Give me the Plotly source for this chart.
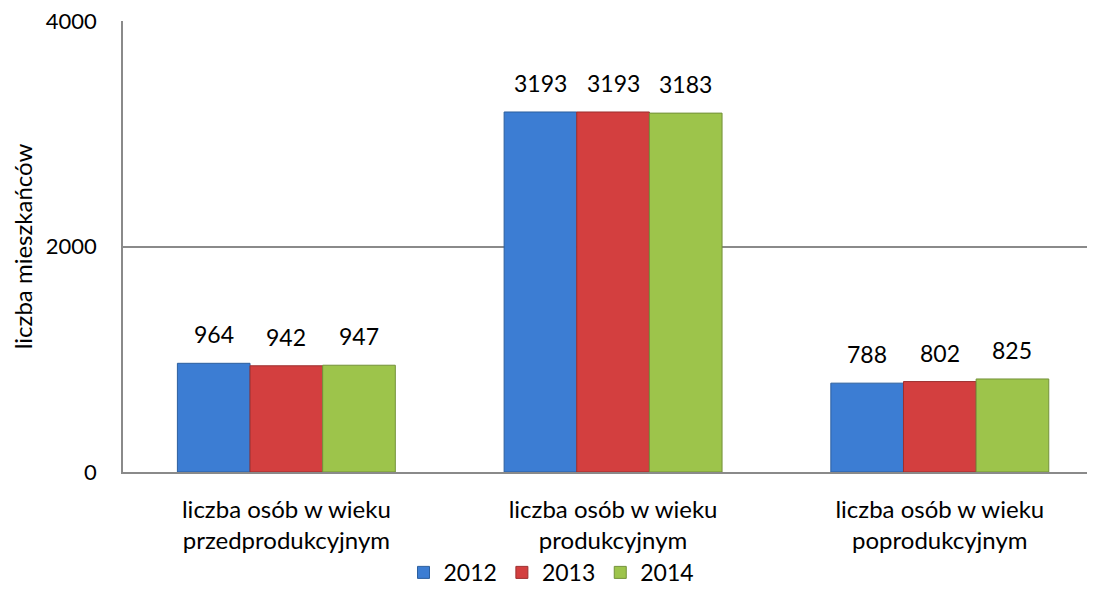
import plotly.graph_objects as go

categories = ["liczba osób w wieku<br>przedprodukcyjnym",
              "liczba osób w wieku<br>produkcyjnym",
              "liczba osób w wieku<br>poprodukcyjnym"]
years = ["2012", "2013", "2014"]
values_2012 = [964, 3193, 788]
values_2013 = [942, 3193, 802]
values_2014 = [947, 3183, 825]
series_values = [values_2012, values_2013, values_2014]
colors = ["#3c7dd3", "#d33f3f", "#9dc44b"]
line_colors = ["#2c5f9e", "#9c2f2f", "#73913a"]

FONT = "Lato"
FS = 23
BARGAP = 0.333
X_RANGE = [-0.5, 2.475]   # plot area is cropped slightly at the right edge

# page body has an 8px default margin, so the figure is 8px smaller
W, H = 1087, 600
ML, MR, MT, MB = 115, 0, 13, 136

fig = go.Figure()
for name, vals, col, lc in zip(years, series_values, colors, line_colors):
    fig.add_trace(go.Bar(
        x=categories, y=vals, name=name,
        marker=dict(color=col, line=dict(color=lc, width=1)),
    ))

# value labels above each bar, shifted sideways to sit over its bar in the group
plot_w = W - ML - MR
cat_w = plot_w / (X_RANGE[1] - X_RANGE[0])
bar_w = cat_w * (1 - BARGAP) / len(years)
for i, vals in enumerate(series_values):
    for cat, v in zip(categories, vals):
        fig.add_annotation(
            x=cat, y=v, xref="x", yref="y", text=str(v), showarrow=False,
            xshift=(i - (len(years) - 1) / 2) * bar_w, yshift=29,
            yanchor="middle", xanchor="center",
            font=dict(family=FONT, size=FS, color="#000000"),
        )

fig.update_layout(
    width=W, height=H,
    margin=dict(l=ML, r=MR, t=MT, b=MB, autoexpand=False),
    barmode="group", bargap=BARGAP, bargroupgap=0,
    plot_bgcolor="white", paper_bgcolor="white",
    font=dict(family=FONT, size=FS, color="#000000"),
    showlegend=True,
    legend=dict(orientation="h", x=0.5, xref="container", xanchor="center",
                y=-0.175, yanchor="top", font=dict(family=FONT, size=FS),
                bgcolor="rgba(0,0,0,0)",
                itemwidth=30, tracegroupgap=0),
)
fig.update_yaxes(
    range=[0, 4000], tickvals=[0, 2000, 4000],
    showgrid=True, gridcolor="#8a8a8a", gridwidth=1.5,
    showline=True, linecolor="#8a8a8a", linewidth=1.5,
    zeroline=False, ticks="", ticklabelstandoff=20,
    ticklabeloverflow="allow",
    tickfont=dict(family=FONT, size=22), automargin=False,
    title=dict(text="liczba mieszkańców", font=dict(family=FONT, size=24), standoff=15),
)
fig.update_xaxes(
    range=X_RANGE,
    showline=True, linecolor="#8a8a8a", linewidth=1.5,
    ticks="", ticklabelstandoff=15, automargin=False,
    tickfont=dict(family=FONT, size=24),
)

fig.write_html("out.html")
